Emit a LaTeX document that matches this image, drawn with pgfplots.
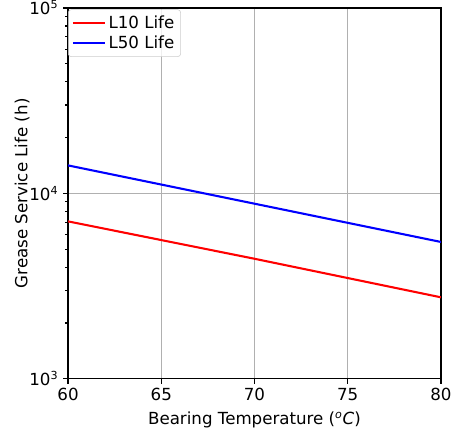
\documentclass[border=0pt]{standalone}
\usepackage{fontspec}
\setmainfont{DejaVu Sans}
\usepackage{pgfplots}
\pgfplotsset{compat=1.18}
\begin{document}
\begin{tikzpicture}[font=\fontsize{12}{14.4}\selectfont]
\begin{axis}[
  scale only axis,
  width=268.6pt, height=267pt,
  xmin=60, xmax=80,
  ymode=log, ymin=1000, ymax=100000,
  xtick={60,65,70,75,80},
  ytick={1000,10000,100000},
  yticklabels={10\textsuperscript{3},10\textsuperscript{4},10\textsuperscript{5}},
  /pgf/number format/assume math mode=true,
  ticklabel style={font=\fontsize{12}{14.4}\selectfont},
  tick align=outside,
  tick pos=left,
  major tick length=3.5pt,
  minor tick length=2pt,
  every tick/.style={black, line width=0.8pt},
  axis line style={line width=0.8pt},
  grid=major,
  major grid style={color=black!31, line width=0.8pt},
  xlabel={Bearing Temperature (\textsuperscript{\textit{o}}\textit{C})},
  ylabel={Grease Service Life (h)},
  xlabel style={yshift=-1pt},
  ylabel style={yshift=-7pt},
  legend cell align=left,
  legend style={at={(0.0,1.0)}, anchor=north west, xshift=0pt, yshift=-1pt, draw=black!20, rounded corners=2pt,
    fill=white, fill opacity=0.8, text opacity=1, inner sep=2.5pt,
    row sep=-0.5pt, font=\fontsize{12}{14.4}\selectfont},
]
\addlegendimage{legend image code/.code={\draw[red, line width=1.5pt] (0pt,0pt) -- (23pt,0pt);}}
\addlegendentry{L10 Life}
\addlegendimage{legend image code/.code={\draw[blue, line width=1.5pt] (0pt,0pt) -- (23pt,0pt);}}
\addlegendentry{L50 Life}
\addplot[color=red, line width=1.5pt, forget plot] coordinates {(60,7065) (70,4440) (80,2750)};
\addplot[color=blue, line width=1.5pt, forget plot] coordinates {(60,14160) (70,8800) (80,5470)};
\end{axis}
\pgfresetboundingbox
\path[use as bounding box] (-49pt,-38.9pt) rectangle (278pt,272.8pt);
\end{tikzpicture}
\end{document}
